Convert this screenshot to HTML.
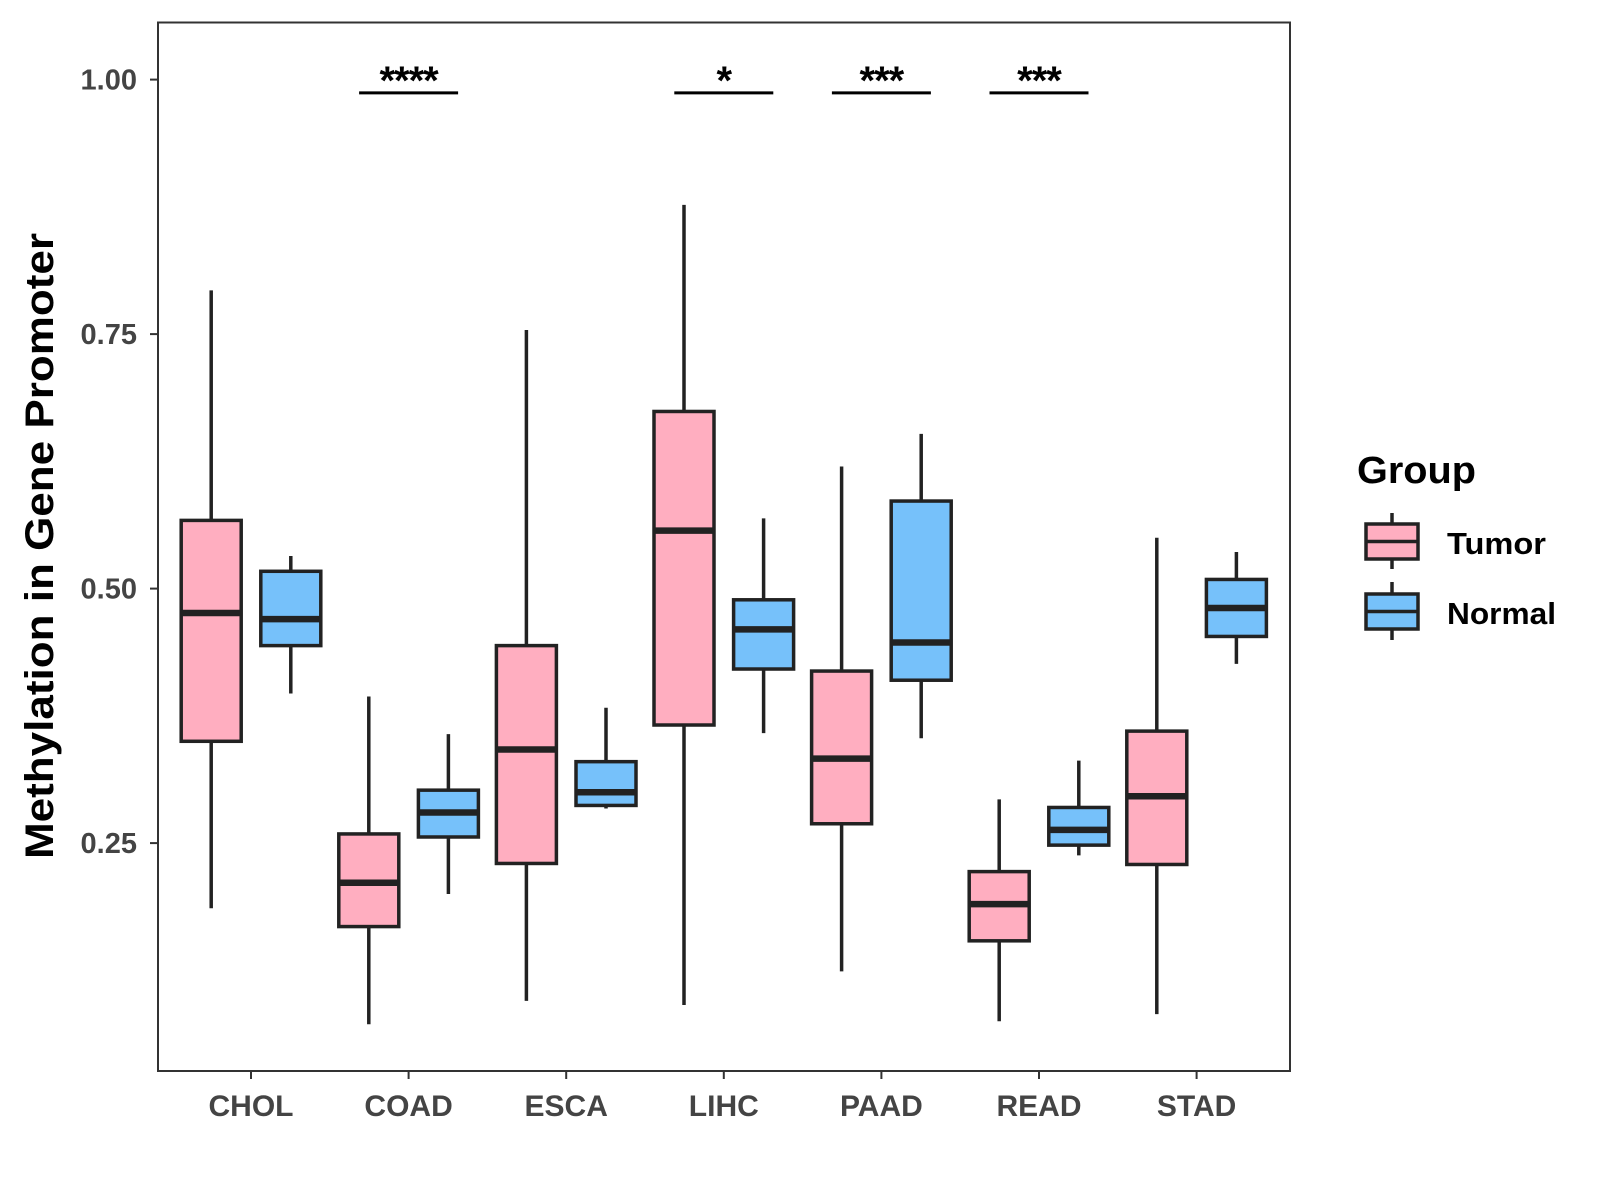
<!DOCTYPE html>
<html><head><meta charset="utf-8"><style>
html,body{margin:0;padding:0;background:#fff;}
svg{display:block;font-family:"Liberation Sans",Arial,sans-serif;font-weight:bold;}
</style></head><body>
<svg id="chart" width="1600" height="1200" viewBox="0 0 1600 1200" xmlns="http://www.w3.org/2000/svg">
<rect x="0" y="0" width="1600" height="1200" fill="#fff"/>
<g id="marks"></g>
<rect x="158" y="22.5" width="1132" height="1048.5" fill="none" stroke="#333" stroke-width="2"/>
<g id="axes"></g>
<text transform="translate(53,546) rotate(-90)" text-anchor="middle" font-size="40" textLength="626" lengthAdjust="spacingAndGlyphs" fill="#000">Methylation in Gene Promoter</text>
<g>
<text x="1357" y="483" font-size="38" textLength="119" lengthAdjust="spacingAndGlyphs" fill="#000">Group</text>
<g>
<line x1="1392" y1="513" x2="1392" y2="569" stroke="#222" stroke-width="3.5"/>
<rect x="1366" y="524" width="52" height="35" fill="#FFAEC0" stroke="#222" stroke-width="3.5"/>
<line x1="1366" y1="541.5" x2="1418" y2="541.5" stroke="#222" stroke-width="3.5"/>
<text x="1447" y="554" font-size="31" textLength="99" lengthAdjust="spacingAndGlyphs" fill="#000">Tumor</text>
</g>
<g>
<line x1="1392" y1="582" x2="1392" y2="640" stroke="#222" stroke-width="3.5"/>
<rect x="1366" y="594" width="52" height="35" fill="#76C1FA" stroke="#222" stroke-width="3.5"/>
<line x1="1366" y1="611.5" x2="1418" y2="611.5" stroke="#222" stroke-width="3.5"/>
<text x="1447" y="624" font-size="31" textLength="109" lengthAdjust="spacingAndGlyphs" fill="#000">Normal</text>
</g>
</g>
</svg>
<script>
const categories = ["CHOL","COAD","ESCA","LIHC","PAAD","READ","STAD"];
// [whiskerLow, Q1, median, Q3, whiskerHigh]
const tumorStats = [
 [0.186,0.350,0.476,0.567,0.793],
 [0.072,0.168,0.211,0.259,0.394],
 [0.095,0.230,0.342,0.444,0.754],
 [0.091,0.366,0.557,0.674,0.877],
 [0.124,0.269,0.333,0.419,0.620],
 [0.075,0.154,0.190,0.222,0.293],
 [0.082,0.229,0.296,0.360,0.550]
];
const normalStats = [
 [0.397,0.444,0.470,0.517,0.532],
 [0.200,0.256,0.280,0.302,0.357],
 [0.284,0.287,0.300,0.330,0.383],
 [0.358,0.421,0.460,0.489,0.569],
 [0.353,0.410,0.447,0.586,0.652],
 [0.238,0.248,0.263,0.285,0.331],
 [0.426,0.453,0.481,0.509,0.536]
];
const yTicks = [0.25,0.50,0.75,1.00];
const yTickLabels = ["0.25","0.50","0.75","1.00"];
const sigLabels = ["","****","","*","***","***",""];
const sigLevel = 0.987;

const NS="http://www.w3.org/2000/svg";
const y = v => 79.6 + (1 - v) * 1018;
const x = i => 251 + i * 157.6;
const off = 39.8, bw = 60;
const marks = document.getElementById('marks');
const axes = document.getElementById('axes');
function mk(tag, attrs, parent, text){
  const e=document.createElementNS(NS,tag);
  for(const k in attrs) e.setAttribute(k,attrs[k]);
  if(text!==undefined) e.textContent=text;
  parent.appendChild(e); return e;
}
function drawBox(s, cx, fill, name){
  const g=mk('g',{},marks);
  
  
  mk('line',{x1:cx,x2:cx,y1:y(s[4]),y2:y(s[0]),stroke:'#222','stroke-width':3.5},g);
  mk('rect',{x:cx-bw/2,y:y(s[3]),width:bw,height:y(s[1])-y(s[3]),fill:fill,stroke:'#222','stroke-width':3.5},g);
  mk('line',{x1:cx-bw/2,x2:cx+bw/2,y1:y(s[2]),y2:y(s[2]),stroke:'#222','stroke-width':6.5},g);
}
categories.forEach((c,i)=>{
  drawBox(tumorStats[i], x(i)-off, '#FFAEC0', 'box-tumor-'+c.toLowerCase());
  drawBox(normalStats[i], x(i)+off, '#76C1FA', 'box-normal-'+c.toLowerCase());
  if(sigLabels[i]){
    const g=mk('g',{},marks);
    
    
    mk('line',{x1:x(i)-49.5,x2:x(i)+49.5,y1:y(sigLevel),y2:y(sigLevel),stroke:'#000','stroke-width':3},g);
    mk('text',{x:x(i),y:y(sigLevel)+1,'text-anchor':'middle','font-size':40,'letter-spacing':-1,fill:'#000'},g,sigLabels[i]);
  }
  const t=mk('line',{x1:x(i),x2:x(i),y1:1071,y2:1079,stroke:'#333','stroke-width':2},axes);
  
  
  const l=mk('text',{x:x(i),y:1116,'text-anchor':'middle','font-size':30,fill:'#444'},axes,c);
  
  
});
yTicks.forEach((v,i)=>{
  const t=mk('line',{x1:150,x2:158,y1:y(v),y2:y(v),stroke:'#333','stroke-width':2},axes);
  
  
  const l=mk('text',{x:137,y:y(v)+10,'text-anchor':'end','font-size':29,fill:'#444'},axes,yTickLabels[i]);
  
  
});
</script>
</body></html>
